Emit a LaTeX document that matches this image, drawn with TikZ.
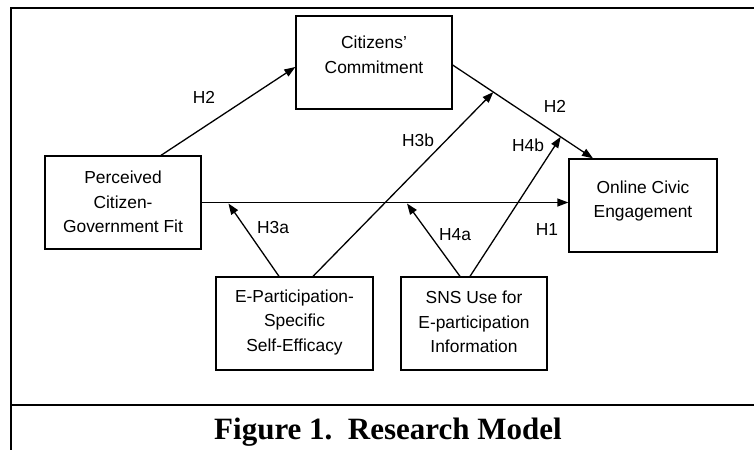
\documentclass[tikz,border=0pt]{standalone}
\usepackage{fontspec}
\setmainfont{Liberation Sans}
\newfontfamily\capfont{Liberation Serif}
\usetikzlibrary{arrows.meta,calc}
\begin{document}
\begin{tikzpicture}[x=1pt,y=-1pt,
  box/.style={draw,line width=1.3pt,minimum width=#1,minimum height=93pt,inner sep=0pt},
  boxtext/.style={align=center,font=\fontsize{17.4}{24.5}\selectfont,inner sep=0pt},
  hlab/.style={font=\fontsize{17.4}{20}\selectfont,inner sep=0pt},
  arr/.style={line width=1.3pt,-{Triangle[length=11pt,width=8pt]}},
  frame/.style={line width=2pt}]
\useasboundingbox (0,0) rectangle (754,450);
% frame
\coordinate (ftl) at (11,8);
\coordinate (ftr) at (754,8);
\coordinate (fbl) at (11,450);
\coordinate (fml) at (11,405);
\coordinate (fmr) at (754,405);
\draw[frame] (ftr) -- (ftl) -- (fbl);
\draw[frame] (fml) -- (fmr);
% boxes
\node[box=156pt] (cc) at (374,62.5) {};
\node[box=156pt] (p) at (123,202.5) {};
\node[box=148pt] (o) at (643,205.5) {};
\node[box=157pt] (e) at (294.5,323.5) {};
\node[box=146pt] (s) at (474,323.5) {};
% box texts
\node[boxtext] (cct) at (374,55) {Citizens’\\Commitment};
\node[boxtext] (pt) at (123,202) {Perceived\\Citizen-\\Government Fit};
\node[boxtext] (ot) at (643,201) {Online Civic\\Engagement};
\node[boxtext] (et) at (294.5,322) {E-Participation-\\Specific\\Self-Efficacy};
\node[boxtext] (st) at (474,322) {SNS Use for\\E-participation\\Information};
% connectors
\coordinate (pA) at ([xshift=38pt]p.north);
\coordinate (ccIn) at ([yshift=-4.5pt]cc.west);
\coordinate (ccOut) at ([yshift=-2.5pt]cc.east);
\coordinate (oIn) at ([xshift=-50pt]o.north);
\draw[arr] (pA) -- (ccIn);
\draw[arr] (ccOut) -- (oIn);
\draw[arr] (p.east) -- (p.east -| o.west);
\coordinate (m3a) at ($(p.east)!0.073!(p.east -| o.west)+(0,1)$);
\coordinate (m4a) at ($(p.east)!0.56!(p.east -| o.west)+(0,1)$);
\coordinate (m3b) at ($(ccOut)!0.29!(oIn)$);
\coordinate (m4b) at ($(ccOut)!0.77!(oIn)$);
\draw[arr] ([xshift=-15.5pt]e.north) -- (m3a);
\draw[arr] ([xshift=18.5pt]e.north) -- (m3b);
\draw[arr] ([xshift=-14pt]s.north) -- (m4a);
\draw[arr] ([xshift=-4pt]s.north) -- (m4b);
% labels
\node[hlab] (l1) at (204,97) {H2};
\node[hlab] (l2) at (555,106) {H2};
\node[hlab] (l3) at (418,140) {H3b};
\node[hlab] (l4) at (528,145) {H4b};
\node[hlab] (l5) at (273,228) {H3a};
\node[hlab] (l6) at (455,235) {H4a};
\node[hlab] (l7) at (547,230) {H1};
% caption
\node[font=\capfont\bfseries\fontsize{31}{34}\selectfont,inner sep=0pt] (cap) at (388,432) {Figure 1.\ \ Research Model};
\end{tikzpicture}
\end{document}
